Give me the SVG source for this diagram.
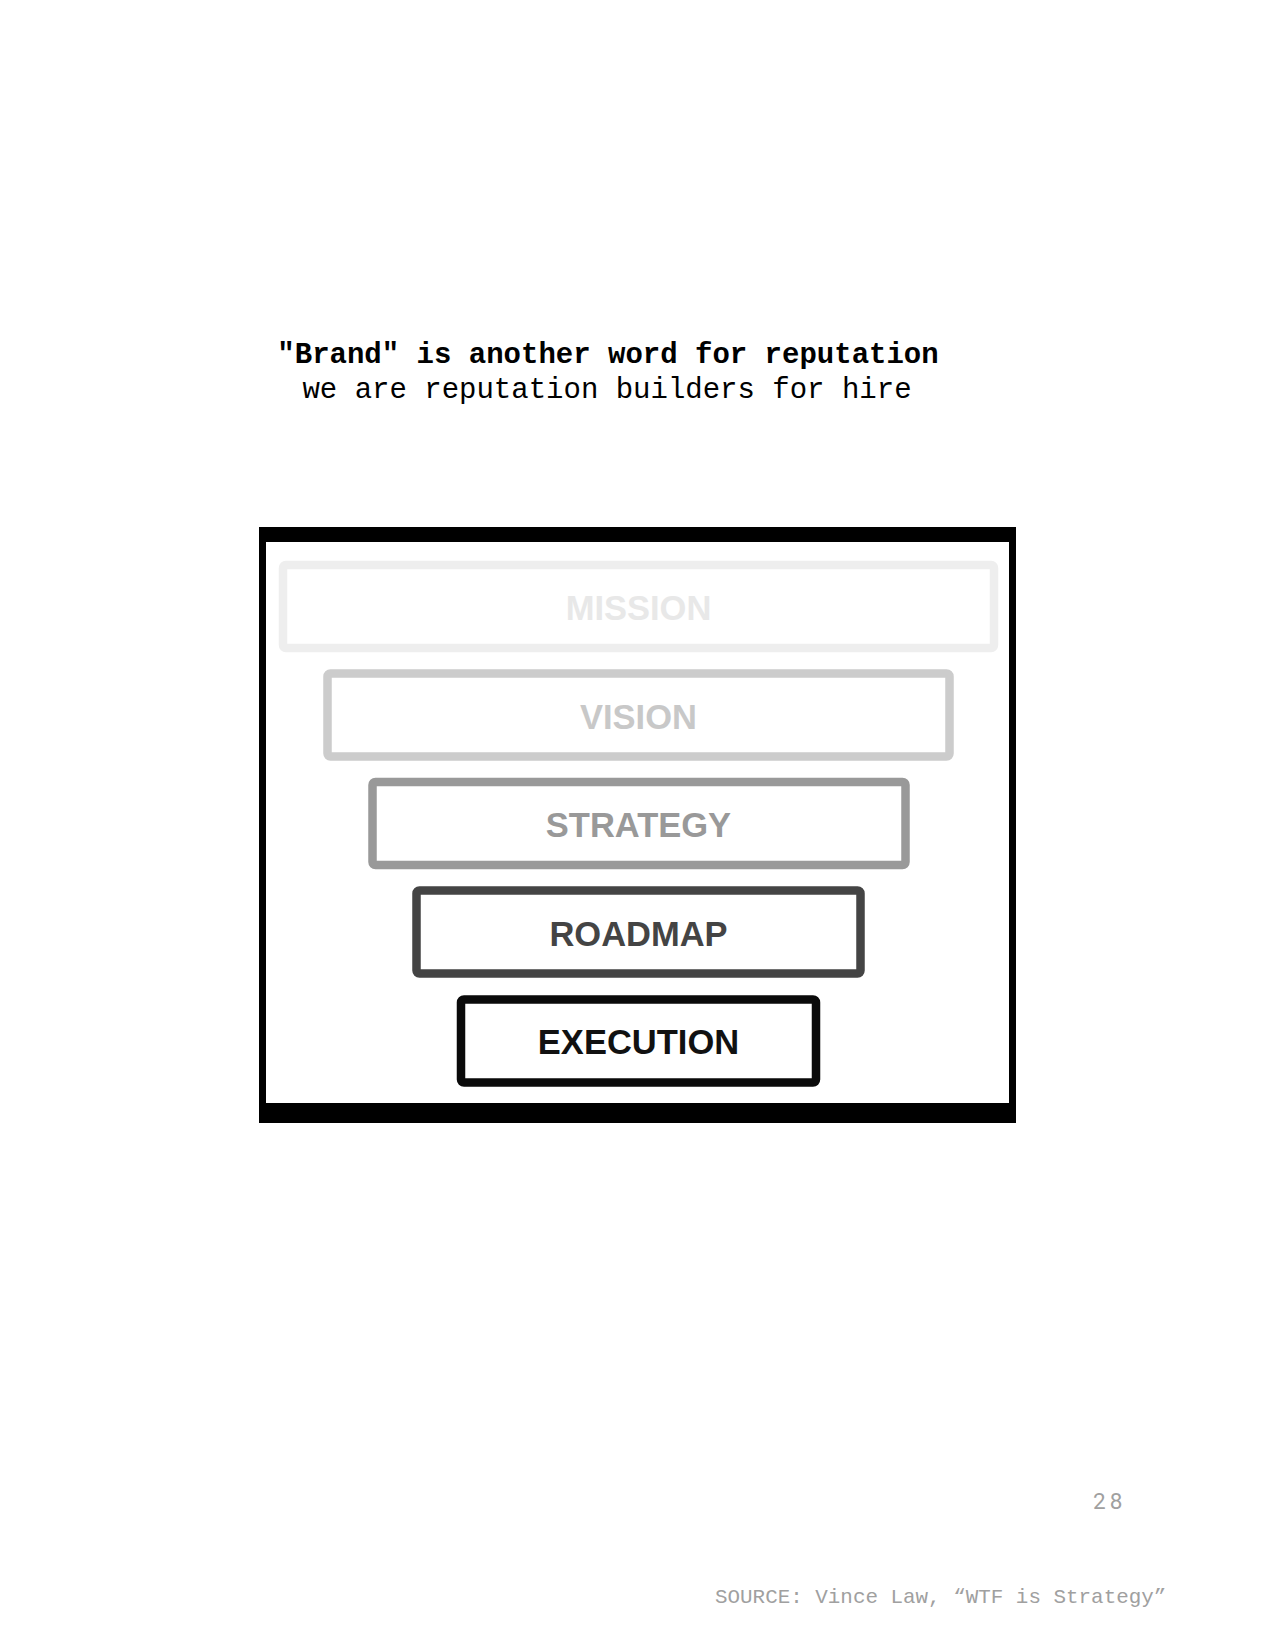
<svg xmlns="http://www.w3.org/2000/svg" width="1275" height="1650" viewBox="0 0 1275 1650">
<style>
.t{font-family:"Liberation Mono","Courier New",monospace;font-size:29px;fill:#000;text-anchor:middle}
.box{fill:#fff;stroke-width:8.5}
.lbl{font-family:"Liberation Sans",Arial,sans-serif;font-weight:bold;font-size:34.5px;text-anchor:middle}
.foot{font-family:"Liberation Mono","Courier New",monospace;font-size:20.9px;fill:#a0a0a0}
</style>
<rect width="1275" height="1650" fill="#fff"/>
<g id="title">
<text class="t" x="608" y="363" font-weight="bold">"Brand" is another word for reputation</text>
<text class="t" x="607" y="398">we are reputation builders for hire</text>
</g>
<g id="frame">
<rect x="259" y="527" width="757" height="596" fill="#000"/>
<rect x="266" y="542" width="743" height="561" fill="#fff"/>
</g>
<g id="mission">
<rect class="box" x="283" y="565" width="711" height="83" rx="3" stroke="#eeeeee"/>
<text class="lbl" x="638.5" y="620" fill="#e8e8e8">MISSION</text>
</g>
<g id="vision">
<rect class="box" x="327.5" y="673.5" width="622" height="83" rx="3" stroke="#cccccc"/>
<text class="lbl" x="638.5" y="729" fill="#c8c8c8">VISION</text>
</g>
<g id="strategy">
<rect class="box" x="372.5" y="782" width="533" height="83" rx="3" stroke="#999999"/>
<text class="lbl" x="638.5" y="837" fill="#999999">STRATEGY</text>
</g>
<g id="roadmap">
<rect class="box" x="416.5" y="890.5" width="444" height="83" rx="3" stroke="#444444"/>
<text class="lbl" x="638.5" y="946" fill="#444444">ROADMAP</text>
</g>
<g id="execution">
<rect class="box" x="461" y="999.5" width="355" height="83" rx="3" stroke="#0a0a0a"/>
<text class="lbl" x="638.5" y="1054" fill="#111111">EXECUTION</text>
</g>
<g id="connectors"></g>
<g id="footer">
<text x="1093" y="1509" font-family="Roboto,'Liberation Sans',sans-serif" font-size="22.5px" fill="#a0a0a0" letter-spacing="4">28</text>
<text class="foot" x="715" y="1603">SOURCE: Vince Law, “WTF is Strategy”</text>
</g>
</svg>
